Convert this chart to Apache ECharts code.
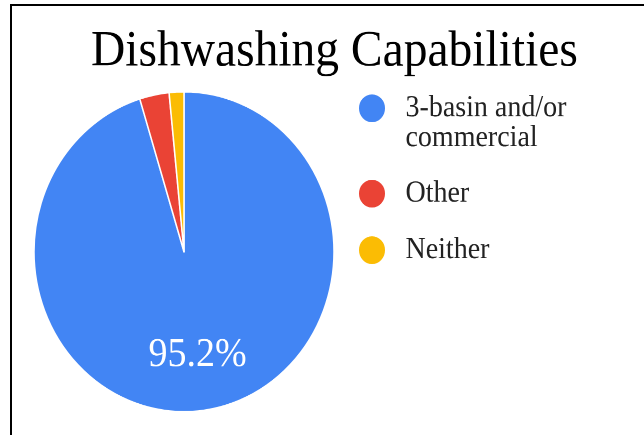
<!DOCTYPE html>
<html>
<head>
<meta charset="utf-8">
<script src="https://cdn.jsdelivr.net/npm/echarts@6/dist/echarts.min.js"></script>
<style>
  html, body { margin: 0; padding: 0; background: #fff; overflow: hidden; }
  #frame {
    position: absolute; left: 10px; top: 4px; right: 0; bottom: 0;
    border-left: 2px solid #000; border-top: 2px solid #000;
    pointer-events: none; z-index: 2;
  }
  /* chart is drawn slightly squat and stretched to the final height */
  #chart {
    position: absolute; left: 0; top: 0; width: 644px; height: 408px;
    transform: scaleY(1.0667); transform-origin: 0 0;
  }
</style>
</head>
<body>
<div id="chart"></div>
<div id="frame"></div>
<script>
const titleText = 'Dishwashing Capabilities';
const categories = ['3-basin and/or\ncommercial', 'Other', 'Neither'];
const counts = [60, 2, 1];
const colors = ['#4285F4', '#EA4335', '#FBBC04'];

const font = 'Liberation Serif, Times New Roman, serif';

const chart = echarts.init(document.getElementById('chart'), null, { renderer: 'canvas', devicePixelRatio: 2 });

chart.setOption({
  backgroundColor: 'transparent',
  animation: false,
  title: {
    text: titleText,
    left: 91,
    top: 25,
    padding: 0,
    textStyle: { fontFamily: font, fontSize: 47.5, fontWeight: 'normal', color: '#000' }
  },
  legend: {
    orient: 'vertical',
    left: 357,
    top: 59.5,
    padding: 0,
    itemGap: 23,
    itemWidth: 29,
    itemHeight: 28,
    icon: 'circle',
    data: categories,
    // a wrapped entry gets an empty line above so its dot sits beside the first line
    formatter: name => (name.indexOf('\n') >= 0 ? '\n' + name : name),
    textStyle: {
      fontFamily: font, fontSize: 28, color: '#222', lineHeight: 28,
      padding: [0, 0, 0, 14]
    }
  },
  series: [{
    type: 'pie',
    center: [184, 236],
    radius: 150,
    startAngle: 90,
    clockwise: true,
    percentPrecision: 1,
    itemStyle: { borderColor: '#fff', borderWidth: 1.5 },
    label: {
      show: true,
      position: 'inside',
      formatter: '{d}%',
      fontFamily: font,
      fontSize: 38,
      color: '#fff'
    },
    labelLine: { show: false },
    labelLayout: { dx: 2, dy: 20 },
    emphasis: { disabled: true },
    data: categories.map((name, i) => ({
      name: name,
      value: counts[i],
      itemStyle: { color: colors[i] },
      label: { show: i === 0 }
    }))
  }]
});
</script>
</body>
</html>
